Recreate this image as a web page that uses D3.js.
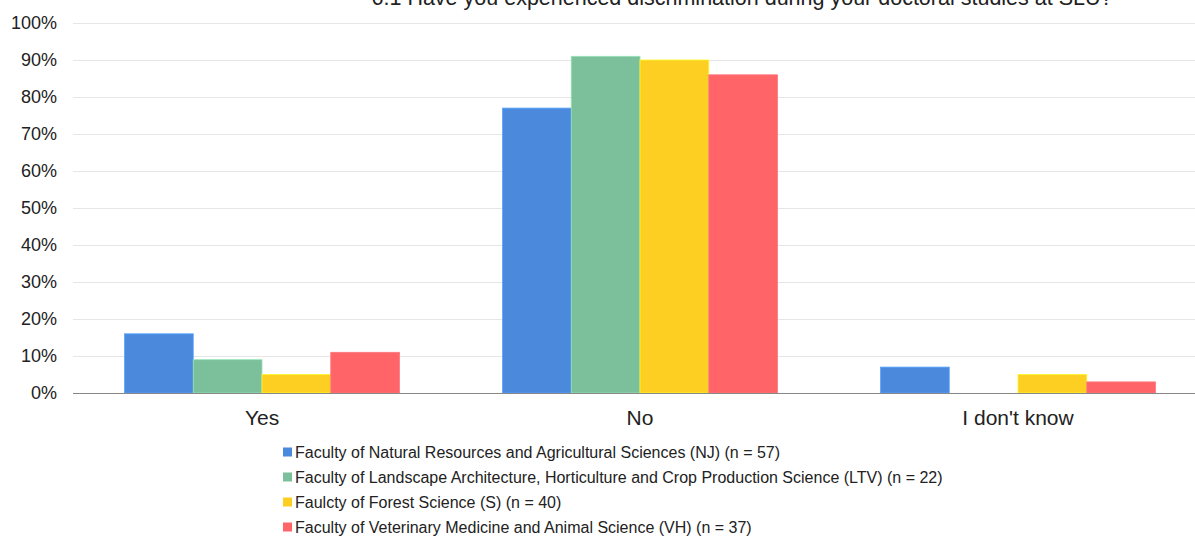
<!DOCTYPE html>
<html><head><meta charset="utf-8">
<script src="https://cdn.jsdelivr.net/npm/d3@7"></script>
<style>html,body{margin:0;padding:0;background:#fff;overflow:hidden}svg{display:block;font-family:"Liberation Sans",Arial,sans-serif}</style>
</head><body>
<svg id="c" width="1195" height="536"></svg>
<script>
const title = "6.1 Have you experienced discrimination during your doctoral studies at SLU?";
const categories = ["Yes", "No", "I don't know"];
const seriesNames = [
  "Faculty of Natural Resources and Agricultural Sciences (NJ) (n = 57)",
  "Faculty of Landscape Architecture, Horticulture and Crop Production Science (LTV) (n = 22)",
  "Faulcty of Forest Science (S) (n = 40)",
  "Faculty of Veterinary Medicine and Animal Science (VH) (n = 37)"
];
const nj  = [16, 77, 7];
const ltv = [9, 91, 0];
const s   = [5, 90, 5];
const vh  = [11, 86, 3];
const seriesValues = [nj, ltv, s, vh];
const colors = ["#4a89dc", "#7bbf9b", "#fdcf22", "#ff6468"];
const yTicks = [0,10,20,30,40,50,60,70,80,90,100];

const svg = d3.select("#c");
const x0 = d3.scaleBand().domain(categories).range([73, 1207]).paddingInner(0.2725).paddingOuter(0.13625);
const x1 = d3.scaleBand().domain(d3.range(seriesNames.length)).range([0, x0.bandwidth()]);
const y = d3.scaleLinear().domain([0, 100]).range([393, 23]);

// title
svg.append("text").attr("x", 742).attr("y", 5).attr("text-anchor", "middle")
  .attr("font-size", 21.5).attr("fill", "#222").text(title);

// gridlines
svg.append("g").selectAll("line").data(yTicks.slice(1)).join("line")
  .attr("x1", 73).attr("x2", 1195).attr("y1", d => y(d) + 0.5).attr("y2", d => y(d) + 0.5)
  .attr("stroke", "#e6e6e6").attr("stroke-width", 1);

// y axis labels
const yAxis = d3.axisLeft(y).tickValues(yTicks).tickFormat(d => d + "%").tickSize(0).tickPadding(0);
const ya = svg.append("g").attr("transform", "translate(57,0)").call(yAxis);
ya.select(".domain").remove();
ya.selectAll("text").attr("font-size", 18).attr("fill", "#222").attr("font-family", "Liberation Sans, Arial, sans-serif");

// bars
const groups = svg.append("g").selectAll("g").data(categories).join("g")
  .attr("transform", d => `translate(${x0(d)},0)`);
groups.selectAll("rect").data((c, ci) => seriesValues.map((vals, si) => ({si, v: vals[ci]})).filter(d => d.v > 0))
  .join("rect")
  .attr("x", d => x1(d.si)).attr("width", x1.bandwidth())
  .attr("y", d => y(d.v)).attr("height", d => y(0) - y(d.v))
  .attr("fill", d => colors[d.si])
  .attr("stroke", d => d3.color(colors[d.si]).brighter(0.5)).attr("stroke-width", 0.8);

// baseline
svg.append("line").attr("x1", 73).attr("x2", 1195).attr("y1", y(0) + 0.5).attr("y2", y(0) + 0.5)
  .attr("stroke", "#888").attr("stroke-width", 1.2);

// x axis labels
const xAxis = d3.axisBottom(x0).tickSize(0).tickPadding(0);
const xa = svg.append("g").attr("transform", `translate(0,${y(0)})`).call(xAxis);
xa.select(".domain").remove();
xa.selectAll("text").attr("font-size", 21).attr("fill", "#222").attr("font-family", "Liberation Sans, Arial, sans-serif")
  .attr("y", 32).attr("dy", null);

// legend
const lg = svg.append("g").selectAll("g").data(seriesNames).join("g")
  .attr("transform", (d, i) => `translate(283,${452 + i * 25})`);
lg.append("rect").attr("x", 0).attr("y", -4.5).attr("width", 9).attr("height", 9).attr("fill", (d, i) => colors[i]);
lg.append("text").attr("x", 12).attr("y", 0).attr("dy", "0.35em").attr("font-size", 16).attr("fill", "#222").text(d => d);
</script>
</body></html>
